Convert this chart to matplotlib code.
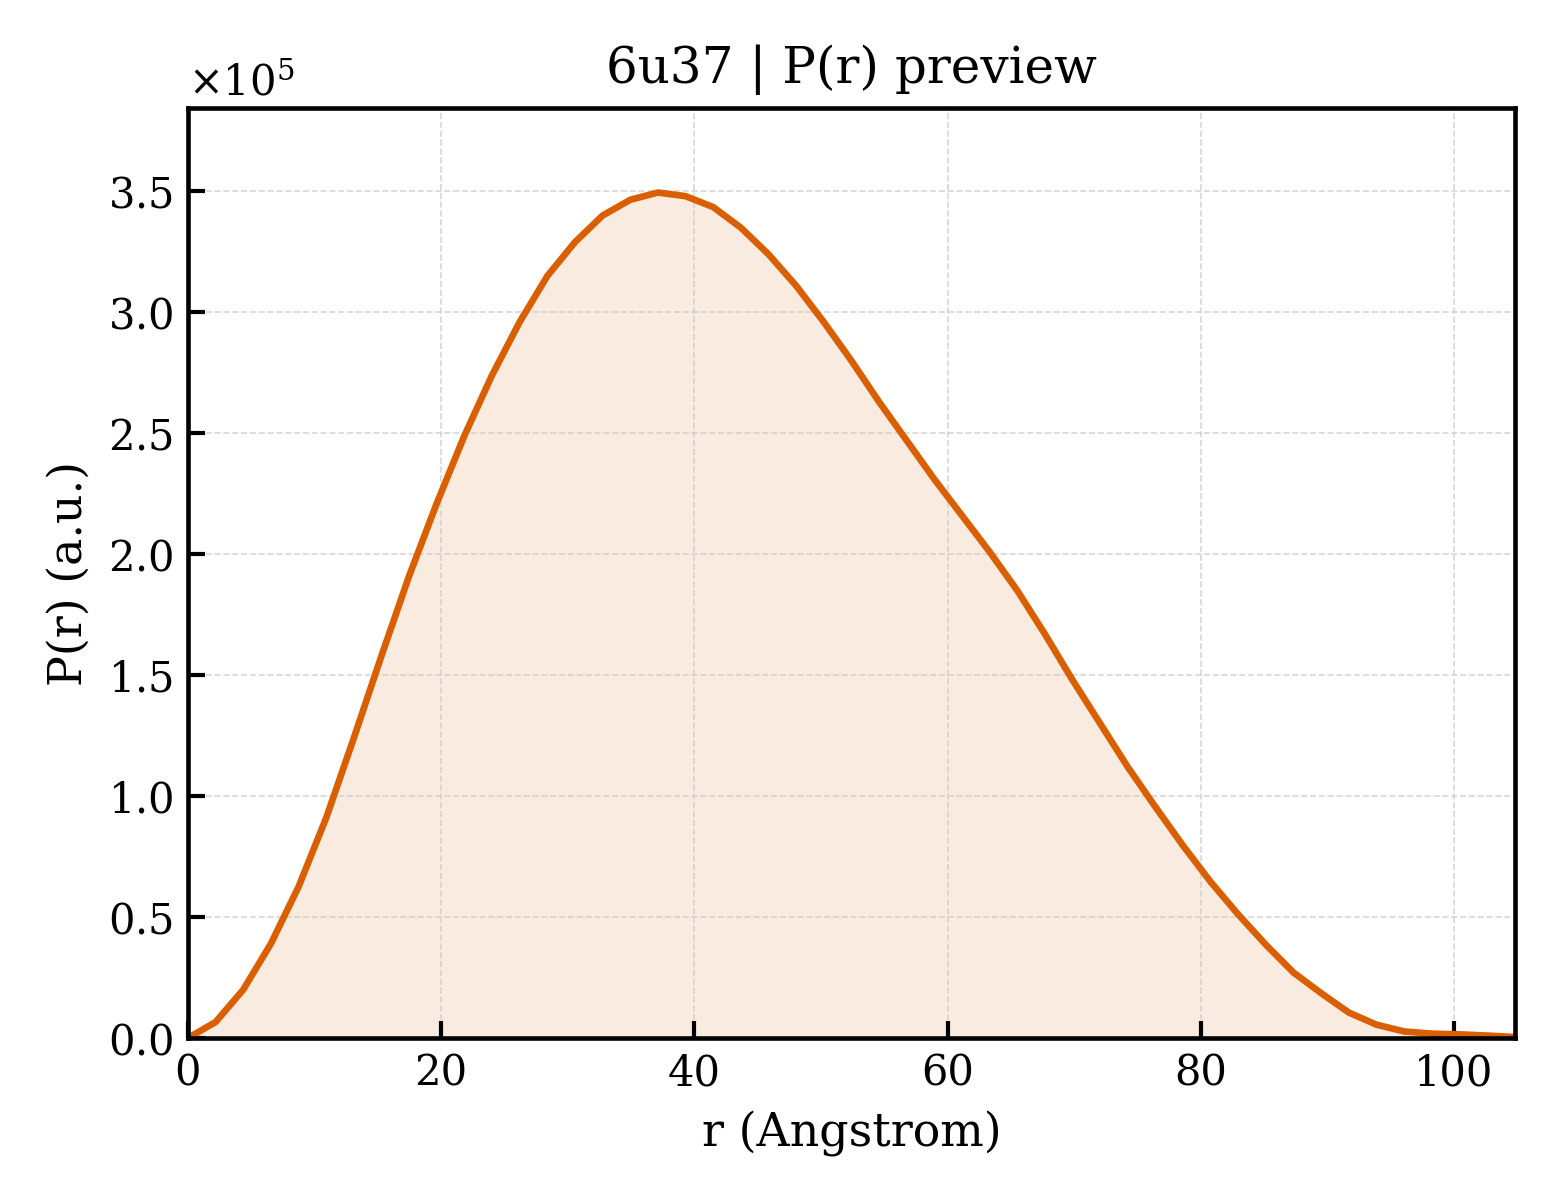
import numpy as np
import matplotlib
matplotlib.use("Agg")
import matplotlib.pyplot as plt
from matplotlib.ticker import ScalarFormatter

# P(r) samples (49 points, 0 .. Dmax)
d_max = 104.8
n_points = 49
pr_values = [0.0, 0.066, 0.20, 0.39, 0.625, 0.91, 1.24, 1.58, 1.91, 2.21,
             2.49, 2.74, 2.96, 3.15, 3.29, 3.40, 3.465, 3.495, 3.48, 3.435,
             3.35, 3.24, 3.11, 2.96, 2.80, 2.63, 2.47, 2.31, 2.16, 2.01,
             1.85, 1.67, 1.48, 1.30, 1.12, 0.955, 0.795, 0.645, 0.51, 0.385,
             0.27, 0.185, 0.105, 0.055, 0.027, 0.018, 0.015, 0.010, 0.004]
pr_scale = 1e5

r = np.linspace(0, d_max, n_points)
pr = np.array(pr_values) * pr_scale

plt.rcParams['font.family'] = 'DejaVu Serif'
plt.rcParams['mathtext.fontset'] = 'dejavuserif'

fig = plt.figure(figsize=(5.2, 4.0), dpi=300)
ax = fig.add_axes([0.1205, 0.135, 0.8505, 0.775])

color = '#D95F02'
ax.fill_between(r, pr, 0, color=color, alpha=0.12, linewidth=0)
ax.plot(r, pr, color=color, lw=1.6)

ax.set_xlim(0, d_max)
ax.set_ylim(0, pr.max() * 1.1)

fmt = ScalarFormatter(useMathText=True)
fmt.set_powerlimits((0, 0))
ax.yaxis.set_major_formatter(fmt)
ax.yaxis.get_offset_text().set_fontsize(10)

ax.tick_params(direction='in', length=4, width=1, labelsize=10)
for s in ax.spines.values():
    s.set_linewidth(1.1)
ax.grid(True, ls='--', lw=0.4, color='#cccccc', alpha=0.8)

ax.set_xlabel('r (Angstrom)', fontsize=11)
ax.set_ylabel('P(r) (a.u.)', fontsize=11)
ax.set_title('6u37 | P(r) preview', fontsize=12)

fig.savefig('out.png', dpi=300)
